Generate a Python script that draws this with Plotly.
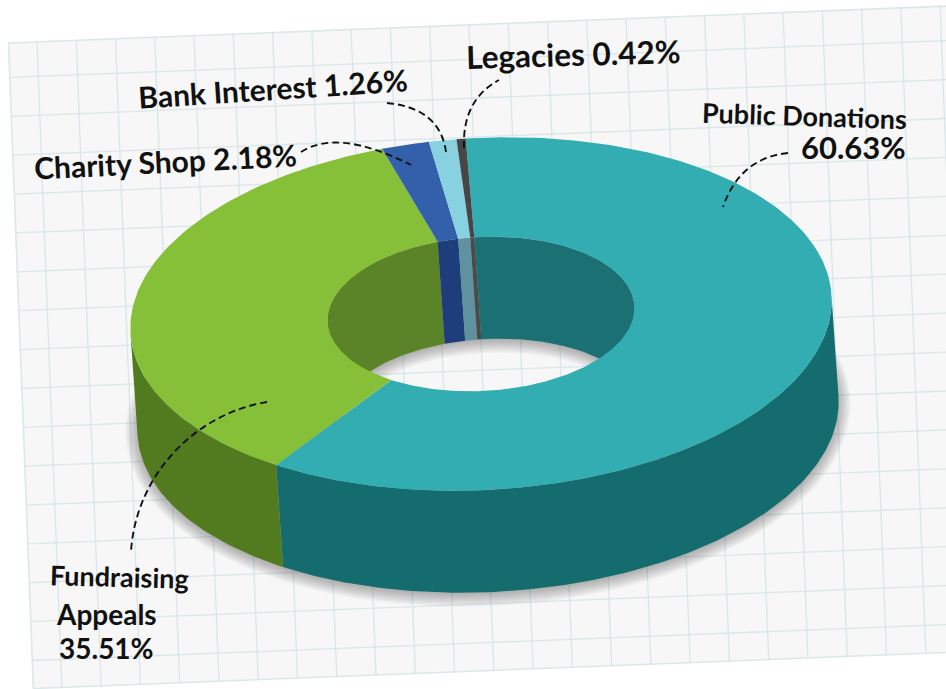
import numpy as np
import plotly.graph_objects as go

# ---- data ----
categories = ["Public Donations", "Fundraising Appeals", "Charity Shop", "Bank Interest", "Legacies"]
values = [60.63, 35.51, 2.18, 1.26, 0.42]
top_colors = ["#32AEB2", "#86BF38", "#3360AA", "#88D1E0", "#464646"]
wall_colors = ["#156C6F", "#527A1E", "#1D3E7A", "#5E929E", "#464646"]
hole_colors = ["#1A7073", "#5A8427", "#1D3E7A", "#5E929E", "#4A4A4A"]

# ---- oblique projection of the ring ----
CX, CY = 481.0, 314.0
A, B = 351.0, 176.0
HOLE = 0.4375
TILT = np.radians(3.0)
START = np.radians(-1.0)
DX, DY = 7.0, 102.0

FONT = "Lato"
INK = "#111111"

# the points of the ellipse where a wall's silhouette starts
TANGENT = np.arctan2(A * (np.cos(TILT) * DY + np.sin(TILT) * DX),
                     B * (np.cos(TILT) * DX - np.sin(TILT) * DY))


def ell(t, a, b, dx=0.0, dy=0.0):
    u, v = a * np.sin(t), -b * np.cos(t)
    return (CX + u * np.cos(TILT) + v * np.sin(TILT) + dx,
            CY - u * np.sin(TILT) + v * np.cos(TILT) + dy)


def poly(x, y, color):
    return go.Scatter(x=np.round(x, 2).tolist(), y=np.round(y, 2).tolist(), mode="lines",
                      line=dict(width=0), fill="toself", fillcolor=color,
                      hoverinfo="skip", showlegend=False)


def wall(t0, t1, lo, hi, a, b, color):
    """Wall of a slice, cut to the visible angular window [lo, hi]."""
    for shift in (-2 * np.pi, 0.0, 2 * np.pi):
        s0, s1 = max(t0 + shift, lo), min(t1 + shift, hi)
        if s1 > s0:
            t = np.linspace(s0, s1, max(4, int((s1 - s0) * 60)))
            x1, y1 = ell(t, a, b)
            x2, y2 = ell(t[::-1], a, b, DX, DY)
            fig.add_trace(poly(np.r_[x1, x2], np.r_[y1, y2], color))


fig = go.Figure()

# ---- squared paper ----
P0 = np.array([8.5, 43.0])
EU = np.array([0.9992, -0.0393])
EV = np.array([0.0385, 0.9992])
PW, PH = 950.0, 646.0
gx, gy = [], []
for d in np.arange(28.5, PW, 39.3):
    a, b = P0 + EU * d, P0 + EU * d + EV * PH
    gx += [a[0], b[0], None]
    gy += [a[1], b[1], None]
for d in np.arange(34.5, PH, 38.9):
    a, b = P0 + EV * d, P0 + EV * d + EU * PW
    gx += [a[0], b[0], None]
    gy += [a[1], b[1], None]
fig.add_trace(go.Scatter(x=gx, y=gy, mode="lines", line=dict(color="#D9E6EA", width=1.3),
                         hoverinfo="skip", showlegend=False))

c = [P0, P0 + EU * PW, P0 + EU * PW + EV * PH, P0 + EV * PH]
paper_path = "M " + " L ".join(f"{p[0]:.1f} {p[1]:.1f}" for p in c) + " Z"

# ---- soft shadow of the base ----
T = np.linspace(0, 2 * np.pi, 241)
for k in range(1, 11):
    e = k * 1.4
    ox, oy = ell(T, A + e - 2, B + e - 2, DX, DY + 2)
    ix, iy = ell(T[::-1], A * HOLE - e, B * HOLE - e, DX, DY)
    fig.add_trace(poly(np.r_[ox, ix], np.r_[oy, iy], "rgba(40,40,40,0.035)"))

# ---- slices ----
shares = np.array(values) / sum(values) * 2 * np.pi
ends = START + np.cumsum(shares)
starts = ends - shares

for t0, t1, col in zip(starts, ends, wall_colors):
    wall(t0, t1, TANGENT, TANGENT + np.pi, A, B, col)

for t0, t1, col in zip(starts, ends, hole_colors):
    wall(t0, t1, TANGENT - np.pi, TANGENT, A * HOLE, B * HOLE, col)

for t0, t1, col in zip(starts, ends, top_colors):
    t = np.linspace(t0, t1, max(4, int((t1 - t0) * 60)))
    x1, y1 = ell(t, A, B)
    x2, y2 = ell(t[::-1], A * HOLE, B * HOLE)
    fig.add_trace(poly(np.r_[x1, x2], np.r_[y1, y2], col))

# ---- labels ----
pct = [f"{v:.2f}%" for v in values]
labels = [
    ("Public Donations", 804, 115, 1.8, 27),
    (pct[0], 853, 147, 0, 31),
    ("Fundraising", 119, 576, 1.5, 27),
    ("Appeals", 106, 614, 0, 28),
    (pct[1], 106, 648, 0, 28),
    (f"{categories[2]} {pct[2]}", 165, 161, -2.9, 30),
    (f"{categories[3]} {pct[3]}", 273, 88, -3.7, 30),
    (f"{categories[4]} {pct[4]}", 573, 54, -1.6, 31.5),
]
annotations = [dict(text=s, x=x, y=y, xref="x", yref="y", showarrow=False, textangle=ang,
                    xanchor="center", yanchor="middle",
                    font=dict(family=FONT, size=sz, color=INK, weight=700))
               for s, x, y, ang, sz in labels]

leaders = [
    "M 301 152 Q 338 128 411 165",
    "M 387 103 Q 440 108 446 152",
    "M 464 148 Q 462 100 499 80",
    "M 788 153 Q 740 158 723 207",
    "M 267 402 C 190 415 135 480 131 552",
]
shapes = [dict(type="path", path=paper_path, xref="x", yref="y", layer="below",
               fillcolor="#F7F7F7", line=dict(color="#DCE7EA", width=1.6))]
shapes += [dict(type="path", path=p, xref="x", yref="y", layer="above",
                line=dict(color="#111111", width=1.9, dash="7px,4px")) for p in leaders]

fig.update_layout(
    width=946, height=689, margin=dict(l=0, r=0, t=0, b=0), autosize=False,
    paper_bgcolor="white", plot_bgcolor="rgba(0,0,0,0)", showlegend=False,
    xaxis=dict(range=[0, 946], visible=False, fixedrange=True),
    yaxis=dict(range=[689, 0], visible=False, fixedrange=True),
    shapes=shapes, annotations=annotations,
)
fig.write_html("out.html", config={"displayModeBar": False},
               post_script="document.body.style.margin='0';document.body.style.overflow='hidden';")
